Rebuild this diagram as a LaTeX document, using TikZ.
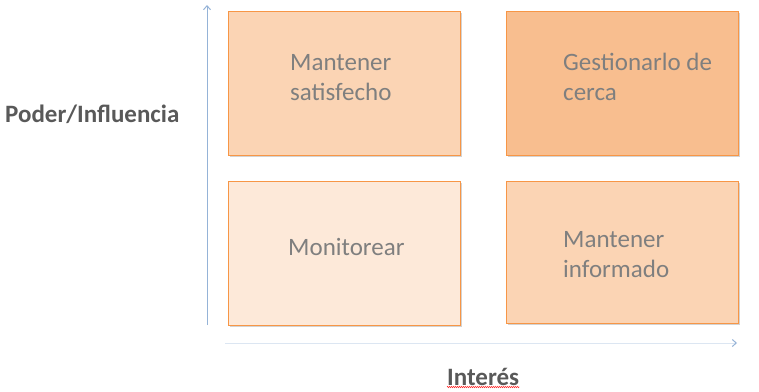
\documentclass[tikz,border=0pt]{standalone}
\usepackage{fontspec}
\setmainfont{Carlito}
\usetikzlibrary{shadows,decorations.pathmorphing,arrows.meta,calc}
\definecolor{boxline}{HTML}{F79646}
\definecolor{fillA}{HTML}{FBD4B4}
\definecolor{fillB}{HTML}{F8BE8F}
\definecolor{fillC}{HTML}{FDE9D9}
\definecolor{txtgray}{HTML}{7F7F7F}
\definecolor{lblgray}{HTML}{595959}
\definecolor{vaxis}{HTML}{95B3D7}
\definecolor{haxis}{HTML}{DCE6F2}
\tikzset{
  quad/.style={draw=boxline, line width=0.8pt, minimum width=232pt, minimum height=144pt, anchor=north west, inner sep=0pt,
    drop shadow={shadow xshift=1.5pt, shadow yshift=-2pt, opacity=0.35, fill=gray}},
  qtext/.style={text=txtgray, font=\fontsize{25}{30}\selectfont, anchor=base west, inner sep=0pt},
  axlbl/.style={text=lblgray, font=\bfseries\fontsize{25}{30}\selectfont, anchor=base west, inner sep=0pt}
}
\begin{document}
\begin{tikzpicture}[x=1pt,y=-1pt]
\useasboundingbox (0,0) rectangle (759,391);
\node[quad, fill=fillA] (tl) at (228,11) {};
\node[quad, fill=fillB] (tr) at (506,11) {};
\node[quad, fill=fillC] (bl) at (228,181) {};
\node[quad, fill=fillA, minimum height=142pt] (br) at (506,181) {};
\node[qtext] (ttl1) at (290,70) {Mantener};
\node[qtext] (ttl2) at (290,100) {satisfecho};
\node[qtext] (ttr1) at (563,70) {Gestionarlo de};
\node[qtext] (ttr2) at (563,100) {cerca};
\node[qtext] (tbl) at (288,255) {Monitorear};
\node[qtext] (tbr1) at (563,247) {Mantener};
\node[qtext] (tbr2) at (563,277) {informado};
\coordinate (v0) at (207,325);
\coordinate (v1) at (207,5);
\draw[vaxis, line width=1pt, -{Straight Barb[length=4pt,width=7pt]}] (v0) -- (v1);
\coordinate (h0) at (225,343);
\coordinate (h1) at (737,343);
\draw[haxis, line width=1pt, -{Straight Barb[length=4pt,width=7pt,color=vaxis]}] (h0) -- (h1);
\node[axlbl] (ylab) at (5,122) {Poder/Influencia};
\node[axlbl] (xlab) at (447,385) {Interés};
\draw[red!80, line width=0.6pt, decorate, decoration={zigzag, amplitude=0.6pt, segment length=2pt}] ($(xlab.base west)+(0,2)$) -- ($(xlab.base east)+(0,2)$);
\end{tikzpicture}
\end{document}
